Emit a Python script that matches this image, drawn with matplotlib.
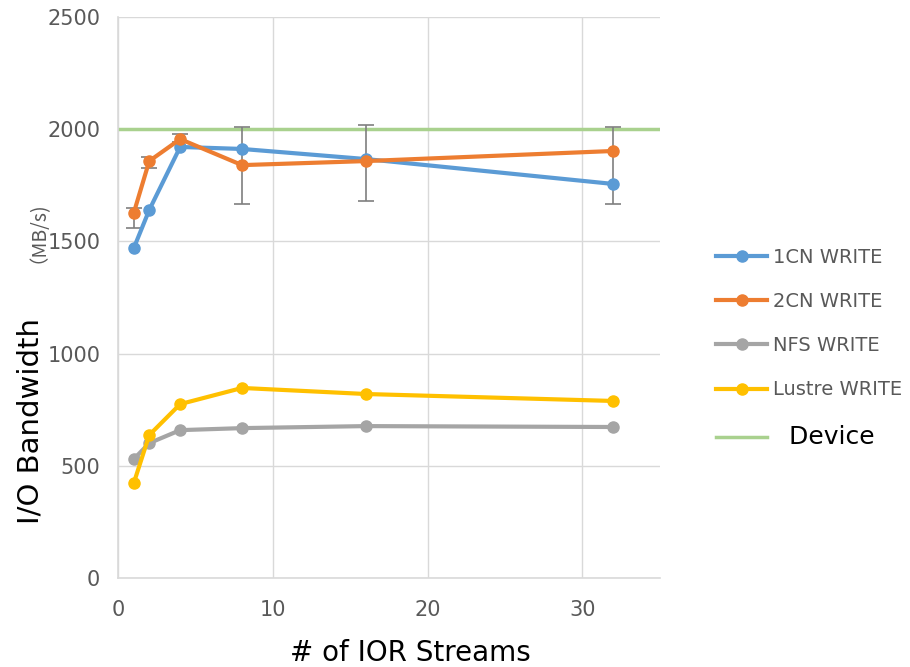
import numpy as np
import matplotlib.pyplot as plt

# datos
streams = [1, 2, 4, 8, 16, 32]
cn1_write = [1470, 1640, 1921, 1912, 1867, 1756]
cn2_write = [1627, 1858, 1956, 1840, 1858, 1903]
nfs_write = [530, 601, 659, 668, 677, 673]
lustre_write = [423, 637, 775, 847, 820, 789]
err_low = [1560, 1826, 1943, 1667, 1680, 1667]
err_high = [1649, 1878, 1978, 2011, 2020, 2011]
device_bw = 2000

tick_gray = '#595959'

fig = plt.figure(figsize=(9.1, 6.67), dpi=100)
ax = fig.add_axes([0.130, 0.1334, 0.595, 0.8411])

ax.plot([0, 35], [device_bw, device_bw], color='#a9d18e', linewidth=2.5,
        label='Device', zorder=2)

# barras de error
centros = [(lo + hi) / 2 for lo, hi in zip(err_low, err_high)]
yerr = [[c - lo for c, lo in zip(centros, err_low)],
        [hi - c for c, hi in zip(centros, err_high)]]
ax.errorbar(streams, centros, yerr=yerr, fmt='none', ecolor='#7f7f7f',
            elinewidth=1.2, capsize=6, capthick=1.2, zorder=3)

ax.plot(streams, cn1_write, color='#5b9bd5', linewidth=3, marker='o',
        markersize=8, label='1CN WRITE', zorder=4)
ax.plot(streams, cn2_write, color='#ed7d31', linewidth=3, marker='o',
        markersize=8, label='2CN WRITE', zorder=5)
ax.plot(streams, nfs_write, color='#a5a5a5', linewidth=3, marker='o',
        markersize=8, label='NFS WRITE', zorder=4)
ax.plot(streams, lustre_write, color='#ffc000', linewidth=3, marker='o',
        markersize=8, label='Lustre WRITE', zorder=4)

ax.set_xlim(0, 35)
ax.set_ylim(0, 2500)
ax.set_xticks([0, 10, 20, 30])
ax.set_yticks([0, 500, 1000, 1500, 2000, 2500])
ax.grid(True, color='#d9d9d9', linewidth=1)
ax.set_axisbelow(True)
for s in ['top', 'right']:
    ax.spines[s].set_visible(False)
for s in ['left', 'bottom']:
    ax.spines[s].set_color('#d9d9d9')
    ax.spines[s].set_linewidth(1.2)
ax.tick_params(length=0, labelsize=15, labelcolor=tick_gray)
ax.tick_params(axis='x', pad=16)
ax.tick_params(axis='y', pad=13)

ax.set_xlabel('# of IOR Streams', fontsize=20)
ax.xaxis.set_label_coords(0.539, -0.108)
ax.set_ylabel('I/O Bandwidth', fontsize=21)
ax.yaxis.set_label_coords(-0.137, 0.28)
fig.text(0.031, 0.66, '（MB/s)', rotation=90, fontsize=14, color=tick_gray,
         va='center', ha='center', family=['Noto Sans CJK JP', 'DejaVu Sans'])

handles, labels = ax.get_legend_handles_labels()
orden = [1, 2, 3, 4, 0]
labels[0] = '  Device'
leg = fig.legend([handles[i] for i in orden], [labels[i] for i in orden],
                 loc='center left', bbox_to_anchor=(0.768, 0.478), frameon=False,
                 fontsize=14, labelspacing=1.3, handlelength=2.6,
                 handletextpad=0.3)
for t in leg.get_texts():
    t.set_color(tick_gray)
leg.get_texts()[-1].set_color('black')
leg.get_texts()[-1].set_fontsize(18)

fig.savefig('out.png', dpi=100)
